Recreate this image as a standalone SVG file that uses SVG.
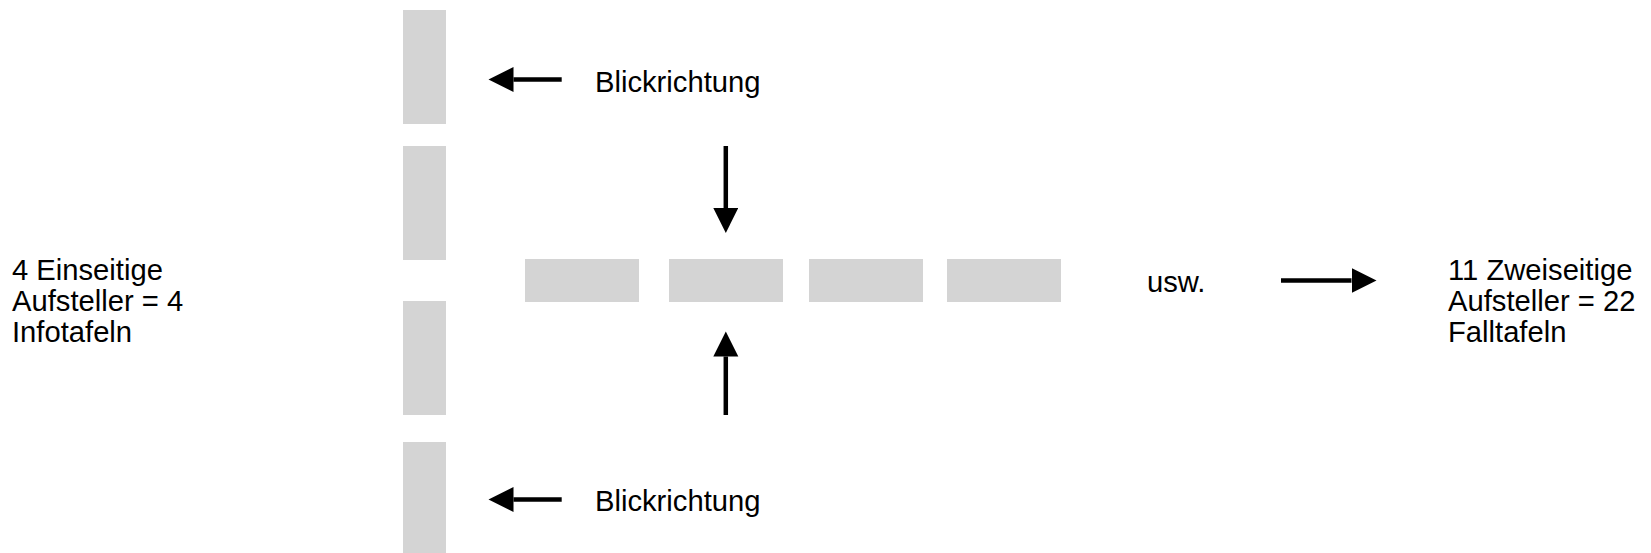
<svg xmlns="http://www.w3.org/2000/svg" width="1651" height="553" viewBox="0 0 1651 553">
  <style>
    .panel { fill: #d4d4d4; }
    .lbl { font-family: "Liberation Sans", Arial, sans-serif; font-size: 29.2px; fill: #000; }
    .arr { stroke: #000; stroke-width: 4.5; fill: none; marker-end: url(#head); }
  </style>
  <defs>
    <marker id="head" markerUnits="userSpaceOnUse" markerWidth="26" markerHeight="26" refX="0" refY="12.5" orient="auto">
      <path d="M0,0 L25,12.5 L0,25 Z" fill="#000"/>
    </marker>
  </defs>
  <rect width="1651" height="553" fill="#fff"/>

  <g id="single-sided">
    <rect id="v1" class="panel" x="403" y="10" width="43" height="114"/>
    <rect id="v2" class="panel" x="403" y="146" width="43" height="114"/>
    <rect id="v3" class="panel" x="403" y="301" width="43" height="114"/>
    <rect id="v4" class="panel" x="403" y="442" width="43" height="114"/>
  </g>

  <g id="double-sided">
    <rect id="h1" class="panel" x="525" y="259" width="114" height="43"/>
    <rect id="h2" class="panel" x="669" y="259" width="114" height="43"/>
    <rect id="h3" class="panel" x="809" y="259" width="114" height="43"/>
    <rect id="h4" class="panel" x="947" y="259" width="114" height="43"/>
  </g>

  <g id="label-left">
    <text class="lbl" x="12" y="279.5">4 Einseitige</text>
    <text class="lbl" x="12" y="311">Aufsteller = 4</text>
    <text class="lbl" x="12" y="342">Infotafeln</text>
  </g>

  <g id="label-right">
    <text class="lbl" x="1448" y="279.5">11 Zweiseitige</text>
    <text class="lbl" x="1448" y="311">Aufsteller = 22</text>
    <text class="lbl" x="1448" y="342">Falltafeln</text>
  </g>

  <g id="label-top"><text class="lbl" x="595" y="91.5">Blickrichtung</text></g>
  <g id="label-bottom"><text class="lbl" x="595" y="510.5">Blickrichtung</text></g>
  <g id="label-usw"><text class="lbl" x="1147" y="292">usw.</text></g>

  <g id="connectors">
    <line class="arr" x1="561.7" y1="79.5" x2="513.5" y2="79.5"/>
    <line class="arr" x1="561.7" y1="499.5" x2="513.5" y2="499.5"/>
    <line class="arr" x1="725.8" y1="146" x2="725.8" y2="208"/>
    <line class="arr" x1="725.8" y1="415" x2="725.8" y2="356.5"/>
    <line class="arr" x1="1281" y1="280.5" x2="1351.5" y2="280.5"/>
  </g>
</svg>
